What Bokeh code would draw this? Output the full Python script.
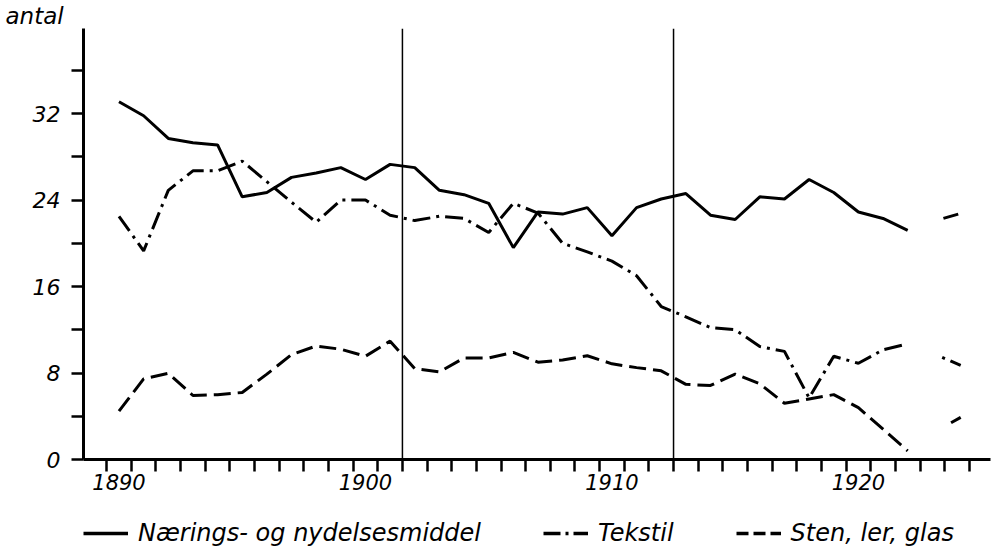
from bokeh.plotting import figure
from bokeh.layouts import column
from bokeh.models import Range1d, FixedTicker, Span, Legend, LegendItem
from bokeh.embed import file_html
from bokeh.resources import INLINE

# ---- data ----
years = list(range(1890, 1923))
naering = [33.1, 31.8, 29.7, 29.3, 29.1, 24.3, 24.7, 26.1, 26.5, 27.0, 25.9,
           27.3, 27.0, 24.9, 24.5, 23.7, 19.6, 22.9, 22.7, 23.3, 20.7,
           23.3, 24.1, 24.6, 22.6, 22.2, 24.3, 24.1, 25.9, 24.7, 22.9, 22.3, 21.2]
tekstil = [22.5, 19.3, 24.9, 26.7, 26.7, 27.6, 25.7, 23.8, 21.95, 24.0, 24.0,
           22.6, 22.1, 22.5, 22.3, 21.0, 23.7, 22.8, 20.0, 19.2, 18.35,
           17.0, 14.15, 13.2, 12.2, 12.0, 10.45, 10.0, 5.7, 9.55, 8.9, 10.15, 10.7]
sten = [4.47, 7.46, 7.98, 5.92, 6.0, 6.2, 7.9, 9.7, 10.5, 10.2, 9.55,
        10.95, 8.4, 8.1, 9.4, 9.4, 9.9, 9.0, 9.2, 9.6, 8.85,
        8.5, 8.2, 6.95, 6.85, 7.9, 7.0, 5.2, 5.6, 6.0, 4.8, 2.8, 0.8]

# short isolated pieces at the right end
naering_tail_x = [1923.45, 1924.05]
naering_tail = [22.3, 22.7]
tekstil_tail_x = [1923.4, 1924.15]
tekstil_tail = [9.45, 8.7]
sten_tail_x = [1923.76, 1924.15]
sten_tail = [3.4, 3.9]

period_marks = [1901.5, 1912.5]

x_labels = [1890, 1900, 1910, 1920]
x_minor = [1889.5 + i for i in range(36)]
y_labels = [0, 8, 16, 24, 32]
y_minor = [4, 12, 20, 28, 36]

labels = ["Nærings- og nydelsesmiddel", "Tekstil", "Sten, ler, glas"]
dashes = ["solid", "18 6 3 6", "17 7"]
key_dashes = ["solid", "17 5 3 5", "12 5"]
series = [naering, tekstil, sten]

FONT = "DejaVu Sans"

p = figure(frame_width=907, frame_height=431, output_backend="svg", toolbar_location=None,
           x_range=Range1d(1888.56, 1925.36), y_range=Range1d(0, 39.87),
           min_border_left=83, min_border_right=4, min_border_top=28,
           min_border_bottom=50)
p.outline_line_color = None
p.grid.visible = False

p.title.text = "antal"
p.title.align = "left"
p.title.offset = -78
p.title.standoff = 0
p.title.text_font = FONT
p.title.text_font_style = "italic"
p.title.text_font_size = "23px"
p.title.text_color = "black"

for ax in (p.xaxis[0], p.yaxis[0]):
    ax.axis_line_width = 3
    ax.axis_line_color = "black"
    ax.major_tick_line_width = 2.5
    ax.minor_tick_line_width = 2.5
    ax.major_tick_in = 0
    ax.minor_tick_in = 0
    ax.minor_tick_out = 12
    ax.major_label_text_font = FONT
    ax.major_label_text_font_style = "italic"
    ax.major_label_text_color = "black"

p.xaxis.ticker = FixedTicker(ticks=x_labels, minor_ticks=x_minor)
p.xaxis.major_tick_out = 0
p.xaxis.major_label_standoff = 2
p.xaxis.major_label_text_font_size = "21px"

p.yaxis.ticker = FixedTicker(ticks=y_labels, minor_ticks=y_minor)
p.yaxis.major_tick_out = 12
p.yaxis.major_label_standoff = 11
p.yaxis.major_label_text_font_size = "22px"

for xm in period_marks:
    p.add_layout(Span(location=xm, dimension="height", line_color="black",
                      line_width=1.5))

for ys, dsh in zip(series, dashes):
    p.line(years, ys, line_color="black", line_width=3, line_dash=dsh)
p.line(naering_tail_x, naering_tail, line_color="black", line_width=3, line_dash=dashes[0])
p.line(tekstil_tail_x, tekstil_tail, line_color="black", line_width=3, line_dash="3 6 18 6")
p.line(sten_tail_x, sten_tail, line_color="black", line_width=3, line_dash=dashes[2])

# legend strip under the chart (series drawn out of its view; only the key shows)
pl = figure(width=994, height=42, output_backend="svg", toolbar_location=None,
            x_range=Range1d(0, 1), y_range=Range1d(0, 1), min_border=0)
pl.outline_line_color = None
pl.grid.visible = False
pl.axis.visible = False
items = []
for lab, ys, dsh in zip(labels, series, key_dashes):
    rr = pl.line(years, ys, line_color="black", line_width=3.5, line_dash=dsh)
    items.append(LegendItem(label=lab, renderers=[rr]))
legend = Legend(items=items, location=(0, 4), orientation="horizontal",
                glyph_width=45, label_standoff=10, spacing=62,
                padding=0, margin=0, border_line_color=None,
                background_fill_alpha=0, label_text_font=FONT,
                label_text_font_style="italic", label_text_font_size="24px",
                label_text_color="black")
pl.add_layout(legend)

layout = column(p, pl, spacing=0)
open("out.html", "w").write(file_html(layout, INLINE))
